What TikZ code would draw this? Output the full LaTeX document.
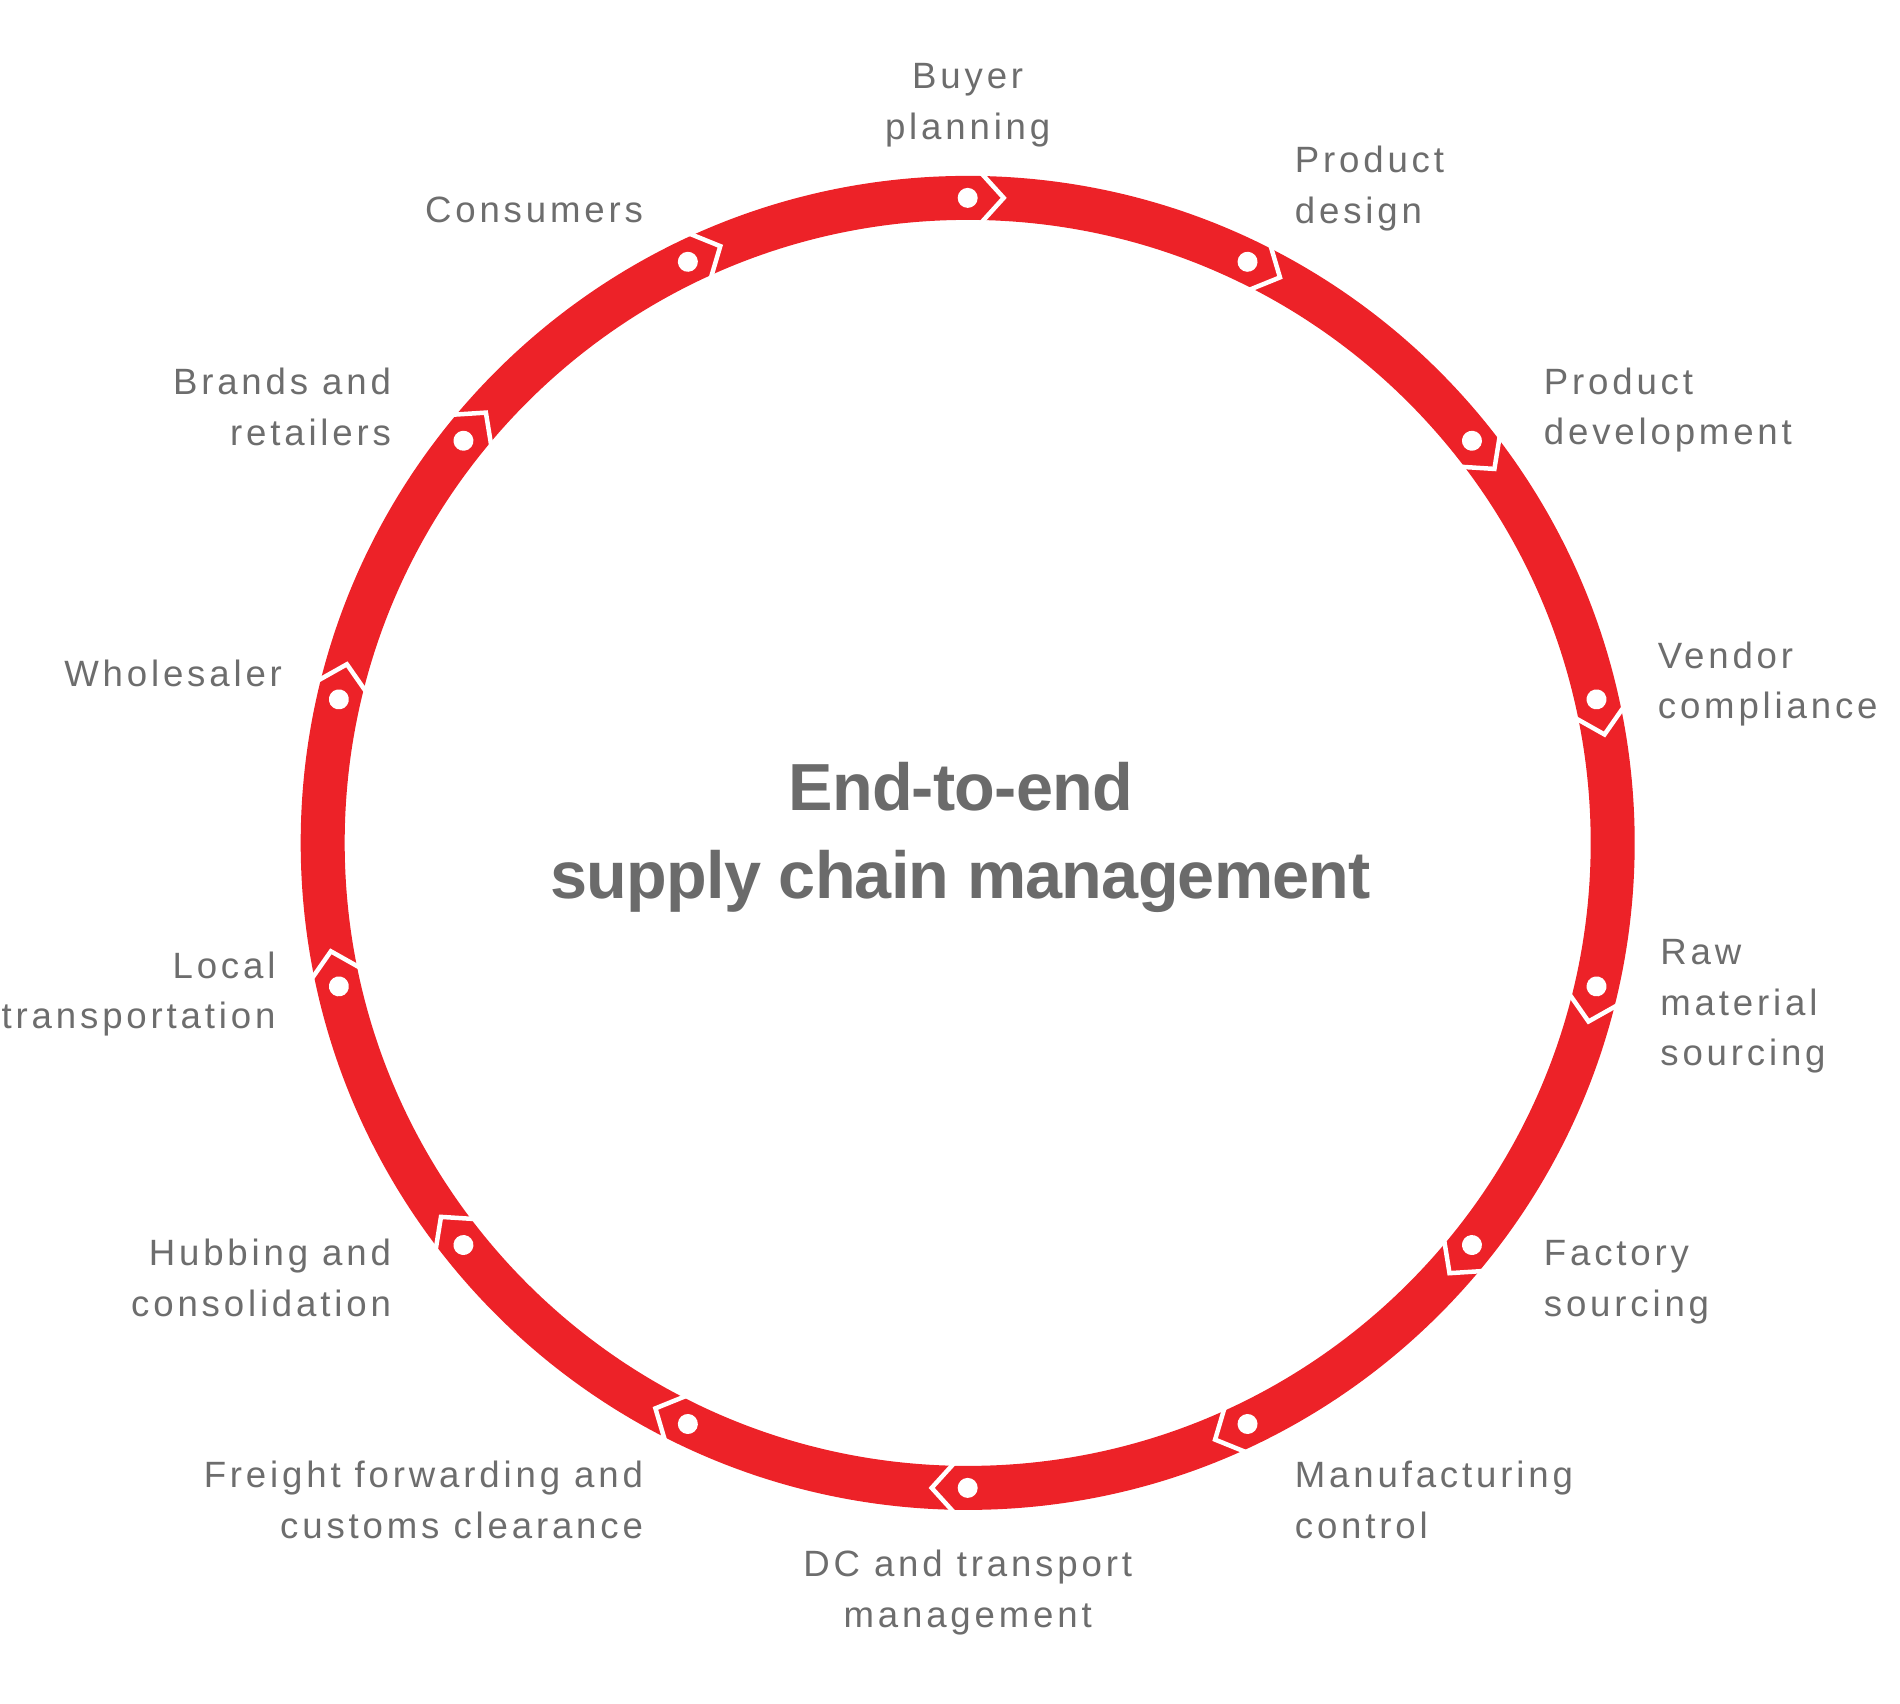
\documentclass[tikz,border=0pt]{standalone}
\usepackage{fontspec}
\setmainfont{Liberation Sans}
\newfontfamily\lblfont[LetterSpace=10.5]{Liberation Sans}
\newfontfamily\ttlfont[LetterSpace=-1.2]{Liberation Sans}
\definecolor{ringred}{RGB}{237,34,40}
\definecolor{txtgray}{RGB}{109,109,109}
\definecolor{ttlgray}{RGB}{107,107,107}
\begin{document}
\begin{tikzpicture}[x=1pt,y=1pt,
  lbl/.style={text=txtgray, inner sep=0pt, font=\lblfont\fontsize{36.6}{50.5}\selectfont},
  ttl/.style={text=ttlgray, inner sep=0pt, font=\ttlfont\bfseries\fontsize{66.6}{87.3}\selectfont},
  ring/.style={draw=ringred, line width=44pt},
  chev/.style={draw=white, line width=4.5pt, miter limit=10},
  stationdot/.style={fill=white}]
\useasboundingbox (-967.7,-861.1) rectangle (932.3,842.9);
% ring
\draw[ring] (0,0) circle (645);
% stations: chevrons and dots
\foreach \k in {0,...,13}{
  \pgfmathsetmacro{\a}{90-\k*360/14}
  \begin{scope}[shift={(\a:645)}, rotate=\a]
    \draw[chev] (27,-11.5) -- (0,-36) -- (-27,-11.5);
    \fill[stationdot] (0,0) circle (10);
  \end{scope}
}
% title
\node[ttl, anchor=base] (title) at (-7,31.9) {\begin{tabular}[t]{@{}c@{}}End-to-end\\supply chain management\end{tabular}};
% labels
\node[lbl, anchor=base] (l1) at (0,753.9) {\begin{tabular}[t]{@{}c@{}}Buyer\\planning\end{tabular}};
\node[lbl, anchor=base west] (l2) at (327,669.9) {\begin{tabular}[t]{@{}l@{}}Product\\design\end{tabular}};
\node[lbl, anchor=base west] (l3) at (576,448.6) {\begin{tabular}[t]{@{}l@{}}Product\\development\end{tabular}};
\node[lbl, anchor=base west] (l4) at (690,174.6) {\begin{tabular}[t]{@{}l@{}}Vendor\\compliance\end{tabular}};
\node[lbl, anchor=base west] (l5) at (692.5,-122.1) {\begin{tabular}[t]{@{}l@{}}Raw\\material\\sourcing\end{tabular}};
\node[lbl, anchor=base west] (l6) at (576,-423) {\begin{tabular}[t]{@{}l@{}}Factory\\sourcing\end{tabular}};
\node[lbl, anchor=base west] (l7) at (327,-645) {\begin{tabular}[t]{@{}l@{}}Manufacturing\\control\end{tabular}};
\node[lbl, anchor=base] (l8) at (0,-733.8) {\begin{tabular}[t]{@{}c@{}}DC and transport\\management\end{tabular}};
\node[lbl, anchor=base east] (l9) at (-324.5,-645) {\begin{tabular}[t]{@{}r@{}}Freight forwarding and\\customs clearance\end{tabular}};
\node[lbl, anchor=base east] (l10) at (-576.5,-423) {\begin{tabular}[t]{@{}r@{}}Hubbing and\\consolidation\end{tabular}};
\node[lbl, anchor=base east] (l11) at (-692,-135.4) {\begin{tabular}[t]{@{}r@{}}Local\\transportation\end{tabular}};
\node[lbl, anchor=base east] (l12) at (-685.5,156) {Wholesaler};
\node[lbl, anchor=base east] (l13) at (-576.5,448) {\begin{tabular}[t]{@{}r@{}}Brands and\\retailers\end{tabular}};
\node[lbl, anchor=base east] (l14) at (-324.5,620) {Consumers};
\end{tikzpicture}
\end{document}
